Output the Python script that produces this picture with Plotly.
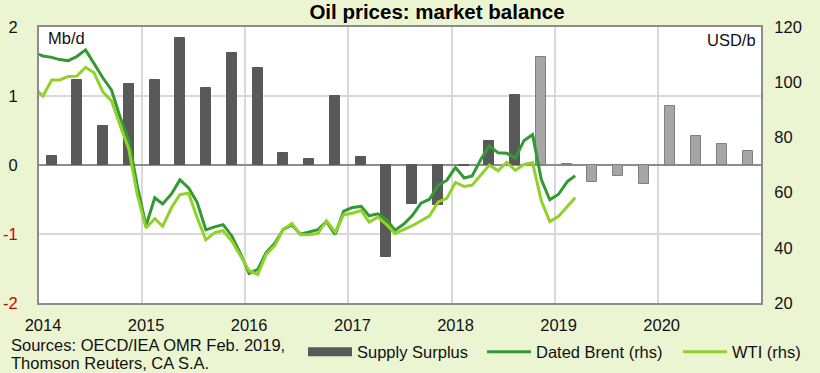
import plotly.graph_objects as go

# ---------------- data ----------------
quarters = ["2014-02-15", "2014-05-15", "2014-08-15", "2014-11-15",
            "2015-02-15", "2015-05-15", "2015-08-15", "2015-11-15",
            "2016-02-15", "2016-05-15", "2016-08-15", "2016-11-15",
            "2017-02-15", "2017-05-15", "2017-08-15", "2017-11-15",
            "2018-02-15", "2018-05-15", "2018-08-15", "2018-11-15",
            "2019-02-15", "2019-05-15", "2019-08-15", "2019-11-15",
            "2020-02-15", "2020-05-15", "2020-08-15", "2020-11-15"]
supply_surplus = [0.13, 1.23, 0.57, 1.17,
                  1.23, 1.84, 1.11, 1.62,
                  1.40, 0.18, 0.08, 1.00,
                  0.11, -1.34, -0.57, -0.58,
                  -0.02, 0.35, 1.02, 1.56,
                  0.02, -0.24, -0.16, -0.28,
                  0.86, 0.42, 0.30, 0.20]
first_forecast_quarter = "2018-11-15"

months = ["2013-12-15"] + \
         [f"{y}-{m:02d}-15" for y in range(2014, 2019) for m in range(1, 13)] + \
         ["2019-01-15", "2019-02-15", "2019-03-15"]
dated_brent = [110.7,
               109.5, 109.0, 108.2, 107.8, 109.3, 111.7, 106.5, 101.6, 97.1, 87.4, 79.0, 62.5,
               48.0, 58.1, 55.9, 59.5, 64.6, 61.7, 56.5, 46.5, 47.6, 48.4, 44.3, 38.0,
               30.7, 32.2, 38.2, 41.6, 46.7, 48.3, 44.9, 45.8, 46.6, 49.5, 44.8, 53.3,
               54.6, 55.0, 51.6, 52.3, 50.3, 46.4, 48.5, 51.7, 56.2, 57.6, 62.7, 64.4,
               69.1, 65.3, 66.0, 72.1, 76.9, 74.4, 74.3, 72.5, 78.9, 81.0, 64.7, 57.4,
               59.4, 64.0, 66.1]
wti = [97.9,
       95.0, 100.8, 100.8, 102.1, 102.2, 105.4, 103.4, 96.5, 93.2, 84.4, 75.8, 59.3,
       47.2, 50.6, 47.8, 54.5, 59.3, 59.8, 50.9, 42.9, 45.5, 46.2, 42.4, 37.2,
       31.7, 30.3, 37.5, 40.8, 46.7, 48.8, 44.7, 44.7, 45.2, 49.8, 45.7, 52.0,
       52.5, 53.5, 49.3, 51.1, 48.5, 45.2, 46.6, 48.0, 49.8, 51.6, 56.6, 57.9,
       63.7, 62.2, 62.7, 66.3, 70.0, 67.9, 71.0, 68.1, 70.2, 70.8, 57.0, 49.5,
       51.4, 55.0, 58.2]

year_ticks = [f"{y}-01-01" for y in range(2014, 2021)]
year_labels = [str(y) for y in range(2014, 2021)]
left_ticks = [-2, -1, 0, 1, 2]
left_labels = ["<span style='color:#D00000'>-2</span>", "<span style='color:#D00000'>-1</span>", "0", "1", "2"]
right_ticks = [20, 40, 60, 80, 100, 120]
source_lines = ["Sources: OECD/IEA OMR Feb. 2019,", "Thomson Reuters, CA S.A."]

# ---------------- styling ----------------
BG = "#EBF5D2"
FONT = "Liberation Sans, Arial, sans-serif"
FS = 16.5
DARK_BAR = "#595959"
LIGHT_BAR = "#A6A6A6"
BRENT_C = "#339933"
WTI_C = "#92D02A"
DAY_MS = 86400000

bar_colors = [LIGHT_BAR if q >= first_forecast_quarter else DARK_BAR for q in quarters]
bar_lines = ["#808080" if q >= first_forecast_quarter else DARK_BAR for q in quarters]

fig = go.Figure()
fig.add_trace(go.Bar(x=quarters, y=supply_surplus, width=35 * DAY_MS,
                     marker=dict(color=bar_colors, line=dict(color=bar_lines, width=1)),
                     name="Supply Surplus", showlegend=False, yaxis="y"))
# legend entry for bars (wide swatch like the original)
fig.add_trace(go.Scatter(x=[None], y=[None], mode="lines", name="Supply Surplus",
                         line=dict(color=DARK_BAR, width=9), legend="legend"))
fig.add_trace(go.Scatter(x=months, y=dated_brent, mode="lines", name="Dated Brent (rhs)",
                         line=dict(color=BRENT_C, width=3), yaxis="y2", legend="legend2"))
fig.add_trace(go.Scatter(x=months, y=wti, mode="lines", name="WTI (rhs)",
                         line=dict(color=WTI_C, width=3), yaxis="y2", legend="legend3"))

legend_common = dict(orientation="h", xref="container", yref="container",
                     yanchor="middle", y=1 - 352 / 373, bgcolor="rgba(0,0,0,0)",
                     font=dict(family=FONT, size=FS, color="#111"), itemwidth=44)

annotations = [
    dict(text="Mb/d", xref="paper", yref="paper", x=(46 - 39) / 722, y=(303 - 38) / 276,
         xanchor="left", yanchor="middle", showarrow=False, font=dict(size=FS)),
    dict(text="USD/b", xref="paper", yref="paper", x=(758 - 39) / 722, y=(303 - 40) / 276,
         xanchor="right", yanchor="middle", showarrow=False, font=dict(size=FS)),
]
for i, line in enumerate(source_lines):
    annotations.append(dict(text=line, xref="paper", yref="paper",
                            x=(9 - 39) / 722, y=(303 - (345 + 18 * i)) / 276,
                            xanchor="left", yanchor="middle", showarrow=False,
                            font=dict(size=FS)))

fig.update_layout(
    width=820, height=373,
    paper_bgcolor=BG, plot_bgcolor="white",
    margin=dict(l=39, r=59, t=27, b=70, autoexpand=False),
    font=dict(family=FONT, size=FS, color="#111"),
    bargap=0,
    title=dict(text="<b>Oil prices: market balance</b>", xref="container", yref="container",
               x=437 / 820, xanchor="center", y=1 - 12 / 373, yanchor="middle",
               font=dict(family=FONT, size=20.5, color="#000")),
    xaxis=dict(type="date", range=["2014-01-01", "2021-01-01"],
               tickvals=year_ticks, ticktext=year_labels,
               showgrid=True, gridcolor="#D9D9D9", gridwidth=1.5,
               showline=True, linecolor="#8C8C8C", linewidth=2, mirror=True,
               ticks="outside", ticklen=6, tickcolor="rgba(0,0,0,0)",
               ticklabelshift=4, tickfont=dict(size=FS)),
    yaxis=dict(range=[-2, 2], tickvals=left_ticks, ticktext=left_labels,
               showgrid=True, gridcolor="#D9D9D9", gridwidth=1.5,
               zeroline=True, zerolinecolor="#8C8C8C", zerolinewidth=2,
               showline=True, linecolor="#8C8C8C", linewidth=2, mirror=True,
               ticks="outside", ticklen=16, tickcolor="rgba(0,0,0,0)",
               tickfont=dict(size=FS)),
    yaxis2=dict(range=[20, 120], tickvals=right_ticks, overlaying="y", side="right",
                showgrid=False, zeroline=False, showline=False,
                ticks="outside", ticklen=9, tickcolor="rgba(0,0,0,0)",
                tickfont=dict(size=FS)),
    legend=dict(x=303 / 820, xanchor="left", **legend_common),
    legend2=dict(x=482 / 820, xanchor="left", **legend_common),
    legend3=dict(x=678 / 820, xanchor="left", **legend_common),
    annotations=annotations,
)

fig.write_html("out.html", config={"displayModeBar": False},
               post_script="document.body.style.margin='0';document.body.style.overflow='hidden';")
